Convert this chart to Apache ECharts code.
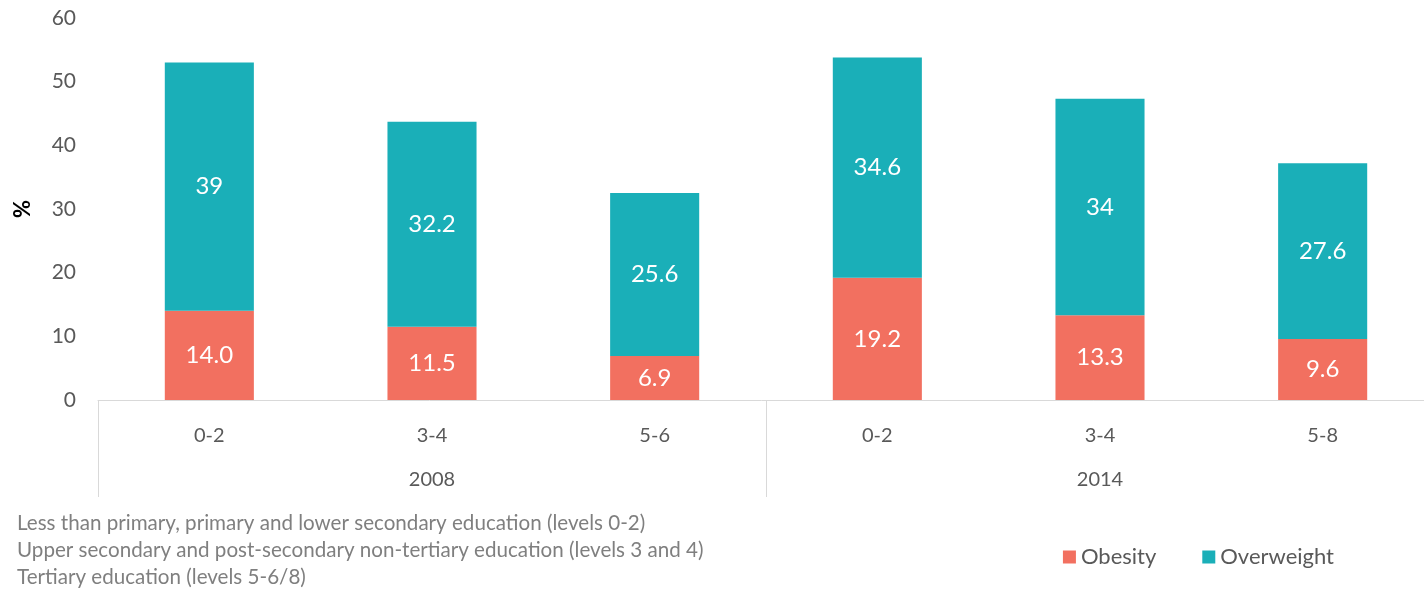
<!DOCTYPE html>
<html>
<head>
    <meta charset="utf-8">
    <title>Obesity and overweight by education</title>
    <script src="https://cdn.jsdelivr.net/npm/echarts@6/dist/echarts.min.js"></script>
</head>
<body style="margin:0;">

<div id="main" style="width: 1424px;height:593px;"></div>
<script type="text/javascript">
    // data
    var levels = ['0-2', '3-4', '5-6', '0-2', '3-4', '5-8'];
    var years = ['2008', '2014'];
    var obesity = [14.0, 11.5, 6.9, 19.2, 13.3, 9.6];
    var overweight = [39, 32.2, 25.6, 34.6, 34, 27.6];
    var yTicks = [0, 10, 20, 30, 40, 50, 60];
    var notes = [
        'Less than primary, primary and lower secondary education (levels 0-2)',
        'Upper secondary and post-secondary non-tertiary education (levels 3 and 4)',
        'Tertiary education (levels 5-6/8)'
    ];

    var myChart = echarts.init(document.getElementById('main'));
    var font = 'Lato, "Open Sans", sans-serif';

    // footnotes under the axis
    var noteItems = [];
    for (var i = 0; i < notes.length; i++) {
        noteItems.push({
            type: 'text',
            left: 17,
            top: 513 + i * 27,
            style: { text: notes[i], fill: '#7f7f7f', font: '20.6px ' + font }
        });
    }

    var option = {
        textStyle: { fontFamily: font },
        grid: { left: 98, right: -10, top: 18, bottom: 193, outerBoundsMode: 'none', containLabel: false },
        legend: {
            data: ['Obesity', 'Overweight'],
            right: 85,
            top: 541,
            itemWidth: 13,
            itemHeight: 13,
            itemGap: 46,
            icon: 'rect',
            textStyle: { fontSize: 22, color: '#595959' }
        },
        graphic: noteItems,
        xAxis: [
            {
                type: 'category',
                data: levels,
                axisLine: { lineStyle: { color: '#d9d9d9' } },
                axisTick: { show: false },
                axisLabel: { fontSize: 20, color: '#595959', margin: 26 }
            },
            {
                type: 'category',
                data: years,
                position: 'bottom',
                axisLine: { show: false },
                axisTick: { show: true, length: 97, lineStyle: { color: '#d9d9d9' } },
                axisLabel: { fontSize: 20, color: '#595959', margin: 70 }
            }
        ],
        yAxis: {
            type: 'value',
            min: yTicks[0],
            max: yTicks[yTicks.length - 1],
            interval: 10,
            name: '%',
            nameLocation: 'middle',
            nameGap: 64,
            nameRotate: 90,
            nameTextStyle: { fontSize: 22, fontWeight: 'bold', color: '#000' },
            axisLine: { show: false },
            axisTick: { show: false },
            splitLine: { show: false },
            axisLabel: { fontSize: 21, color: '#595959', margin: 22 }
        },
        series: [
            {
                name: 'Obesity',
                type: 'bar',
                stack: 'total',
                data: obesity,
                barWidth: '40%',
                itemStyle: { color: '#f27060' },
                label: {
                    show: true,
                    color: '#fff',
                    fontSize: 24,
                    formatter: function (p) { return p.value.toFixed(1); }
                }
            },
            {
                name: 'Overweight',
                type: 'bar',
                stack: 'total',
                data: overweight,
                barWidth: '40%',
                itemStyle: { color: '#1aafb8' },
                label: { show: true, color: '#fff', fontSize: 24 }
            }
        ]
    };
    myChart.setOption(option);
</script>
</body>
</html>
